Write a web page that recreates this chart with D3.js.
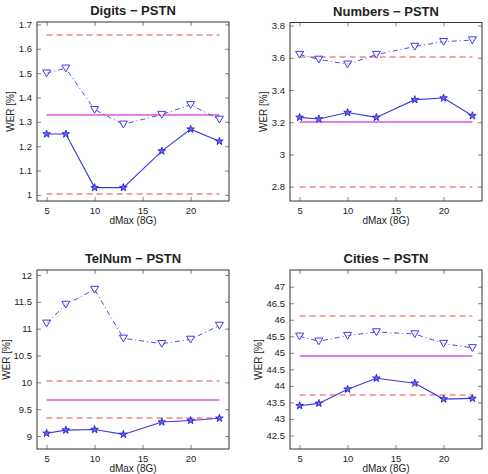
<!DOCTYPE html>
<html>
<head>
<meta charset="utf-8">
<script src="https://cdn.jsdelivr.net/npm/d3@7"></script>
<style>
body { margin: 0; background: #fff; }
svg text { font-family: "Liberation Sans", Arial, sans-serif; fill: #222; }
</style>
</head>
<body>
<div id="chart"></div>
<script>
// dMax values shared by all four panels
var dMax = [5, 7, 10, 13, 17, 20, 23];
var xTicks = [5, 10, 15, 20];

// Digits - PSTN
var digitsStar = [1.25, 1.25, 1.03, 1.03, 1.18, 1.27, 1.22];
var digitsTri = [1.50, 1.52, 1.35, 1.29, 1.33, 1.37, 1.31];
var digitsRef = 1.33;
var digitsBand = [1.655, 1.005];
var digitsTicks = [1, 1.1, 1.2, 1.3, 1.4, 1.5, 1.6, 1.7];

// Numbers - PSTN
var numbersStar = [3.23, 3.22, 3.26, 3.23, 3.34, 3.35, 3.24];
var numbersTri = [3.62, 3.59, 3.56, 3.62, 3.67, 3.70, 3.71];
var numbersRef = 3.20;
var numbersBand = [3.605, 2.795];
var numbersTicks = [2.8, 3, 3.2, 3.4, 3.6, 3.8];

// TelNum - PSTN
var telnumStar = [9.05, 9.11, 9.12, 9.03, 9.26, 9.29, 9.33];
var telnumTri = [11.10, 11.45, 11.73, 10.82, 10.72, 10.80, 11.06];
var telnumRef = 9.68;
var telnumBand = [10.02, 9.33];
var telnumTicks = [9, 9.5, 10, 10.5, 11, 11.5, 12];

// Cities - PSTN
var citiesStar = [43.40, 43.47, 43.90, 44.23, 44.08, 43.60, 43.62];
var citiesTri = [45.50, 45.35, 45.52, 45.63, 45.57, 45.28, 45.15];
var citiesRef = 44.90;
var citiesBand = [46.10, 43.72];
var citiesTicks = [42.5, 43, 43.5, 44, 44.5, 45, 45.5, 46, 46.5, 47];

var width = 488, height = 474;
var svg = d3.select("#chart").append("svg")
	.attr("width", width)
	.attr("height", height);

var starPath = d3.symbol().type(d3.symbolStar).size(18)();
var triPath = "M-4,-3.2L4,-3.2L0,3.6Z";

function panel(p) {
	var x = d3.scaleLinear().domain([4, 24]).range([p.left, p.right]);
	var y = d3.scaleLinear().domain(p.ydom).range([p.bottom, p.top]);
	var g = svg.append("g");

	// ticks inside on all sides, matlab style
	var tl = 4;
	g.append("g").attr("transform", "translate(0," + p.bottom + ")")
		.call(d3.axisBottom(x).tickValues(xTicks).tickSizeInner(-tl).tickSizeOuter(0).tickPadding(6));
	g.append("g").attr("transform", "translate(0," + p.top + ")")
		.call(d3.axisTop(x).tickValues(xTicks).tickSizeInner(-tl).tickSizeOuter(0).tickFormat(""));
	g.append("g").attr("transform", "translate(" + p.left + ",0)")
		.call(d3.axisLeft(y).tickValues(p.ticks).tickSizeInner(-tl).tickSizeOuter(0).tickPadding(5).tickFormat(d3.format("~g")));
	g.append("g").attr("transform", "translate(" + p.right + ",0)")
		.call(d3.axisRight(y).tickValues(p.ticks).tickSizeInner(-tl).tickSizeOuter(0).tickFormat(""));
	g.selectAll(".domain").remove();
	g.selectAll(".tick line").attr("stroke", "#333").attr("stroke-width", 0.6);
	g.selectAll(".tick text").style("font-size", "9.5px").attr("fill", "#222");

	var x0 = dMax[0], x1 = dMax[dMax.length - 1];
	// straddle two pixel rows so the thin coloured lines keep their tint
	function hy(v) { return Math.round(y(v)); }
	g.selectAll(".band").data(p.band).enter().append("line")
		.attr("class", "band")
		.attr("x1", x(x0)).attr("x2", x(x1))
		.attr("y1", hy).attr("y2", hy)
		.attr("stroke", "#ee4848").attr("stroke-width", 1.2).attr("stroke-dasharray", "6,4");
	g.append("line")
		.attr("x1", x(x0)).attr("x2", x(x1)).attr("y1", hy(p.ref)).attr("y2", hy(p.ref))
		.attr("stroke", "#e050e0").attr("stroke-width", 1.4);

	var line = d3.line().x(function(d, i) { return x(dMax[i]); }).y(function(d) { return y(d); });

	g.append("path").datum(p.tri).attr("d", line)
		.attr("fill", "none").attr("stroke", "#4a4ae0").attr("stroke-width", 1)
		.attr("stroke-dasharray", "5,3,1,3");
	g.selectAll(".tri").data(p.tri).enter().append("path")
		.attr("class", "tri")
		.attr("transform", function(d, i) { return "translate(" + x(dMax[i]) + "," + y(d) + ")"; })
		.attr("d", triPath)
		.attr("fill", "#fff").attr("fill-opacity", 0.6).attr("stroke", "#3a3ae8").attr("stroke-width", 1);

	g.append("path").datum(p.star).attr("d", line)
		.attr("fill", "none").attr("stroke", "#3838e0").attr("stroke-width", 1.1);
	g.selectAll(".star").data(p.star).enter().append("path")
		.attr("class", "star")
		.attr("transform", function(d, i) { return "translate(" + x(dMax[i]) + "," + y(d) + ")"; })
		.attr("d", starPath)
		.attr("fill", "#6a6af0").attr("stroke", "#2020d0").attr("stroke-width", 0.9);

	g.append("rect")
		.attr("x", p.left).attr("y", p.top)
		.attr("width", p.right - p.left).attr("height", p.bottom - p.top)
		.attr("fill", "none").attr("stroke", "#333").attr("stroke-width", 1);

	g.append("text")
		.attr("x", (p.left + p.right) / 2).attr("y", p.top - 7)
		.attr("text-anchor", "middle")
		.style("font-size", "13px").style("font-weight", "bold")
		.text(p.title);
	g.append("text")
		.attr("x", (p.left + p.right) / 2).attr("y", p.bottom + 23)
		.attr("text-anchor", "middle")
		.style("font-size", "10px")
		.text("dMax (8G)");
	g.append("text")
		.attr("transform", "translate(" + p.ylab + "," + ((p.top + p.bottom) / 2) + ") rotate(-90)")
		.attr("text-anchor", "middle")
		.style("font-size", "10px")
		.text("WER [%]");
}

panel({title: "Digits \u2212 PSTN", left: 37, right: 229, top: 22, bottom: 201,
	ydom: [0.975, 1.71], ticks: digitsTicks, star: digitsStar, tri: digitsTri,
	ref: digitsRef, band: digitsBand, ylab: 14});
panel({title: "Numbers \u2212 PSTN", left: 290, right: 482, top: 22.5, bottom: 201,
	ydom: [2.711, 3.819], ticks: numbersTicks, star: numbersStar, tri: numbersTri,
	ref: numbersRef, band: numbersBand, ylab: 267});
panel({title: "TelNum \u2212 PSTN", left: 37, right: 229, top: 270, bottom: 449,
	ydom: [8.758, 12.093], ticks: telnumTicks, star: telnumStar, tri: telnumTri,
	ref: telnumRef, band: telnumBand, ylab: 10});
panel({title: "Cities \u2212 PSTN", left: 290, right: 482, top: 270, bottom: 449,
	ydom: [42.09, 47.505], ticks: citiesTicks, star: citiesStar, tri: citiesTri,
	ref: citiesRef, band: citiesBand, ylab: 262});
</script>
</body>
</html>
